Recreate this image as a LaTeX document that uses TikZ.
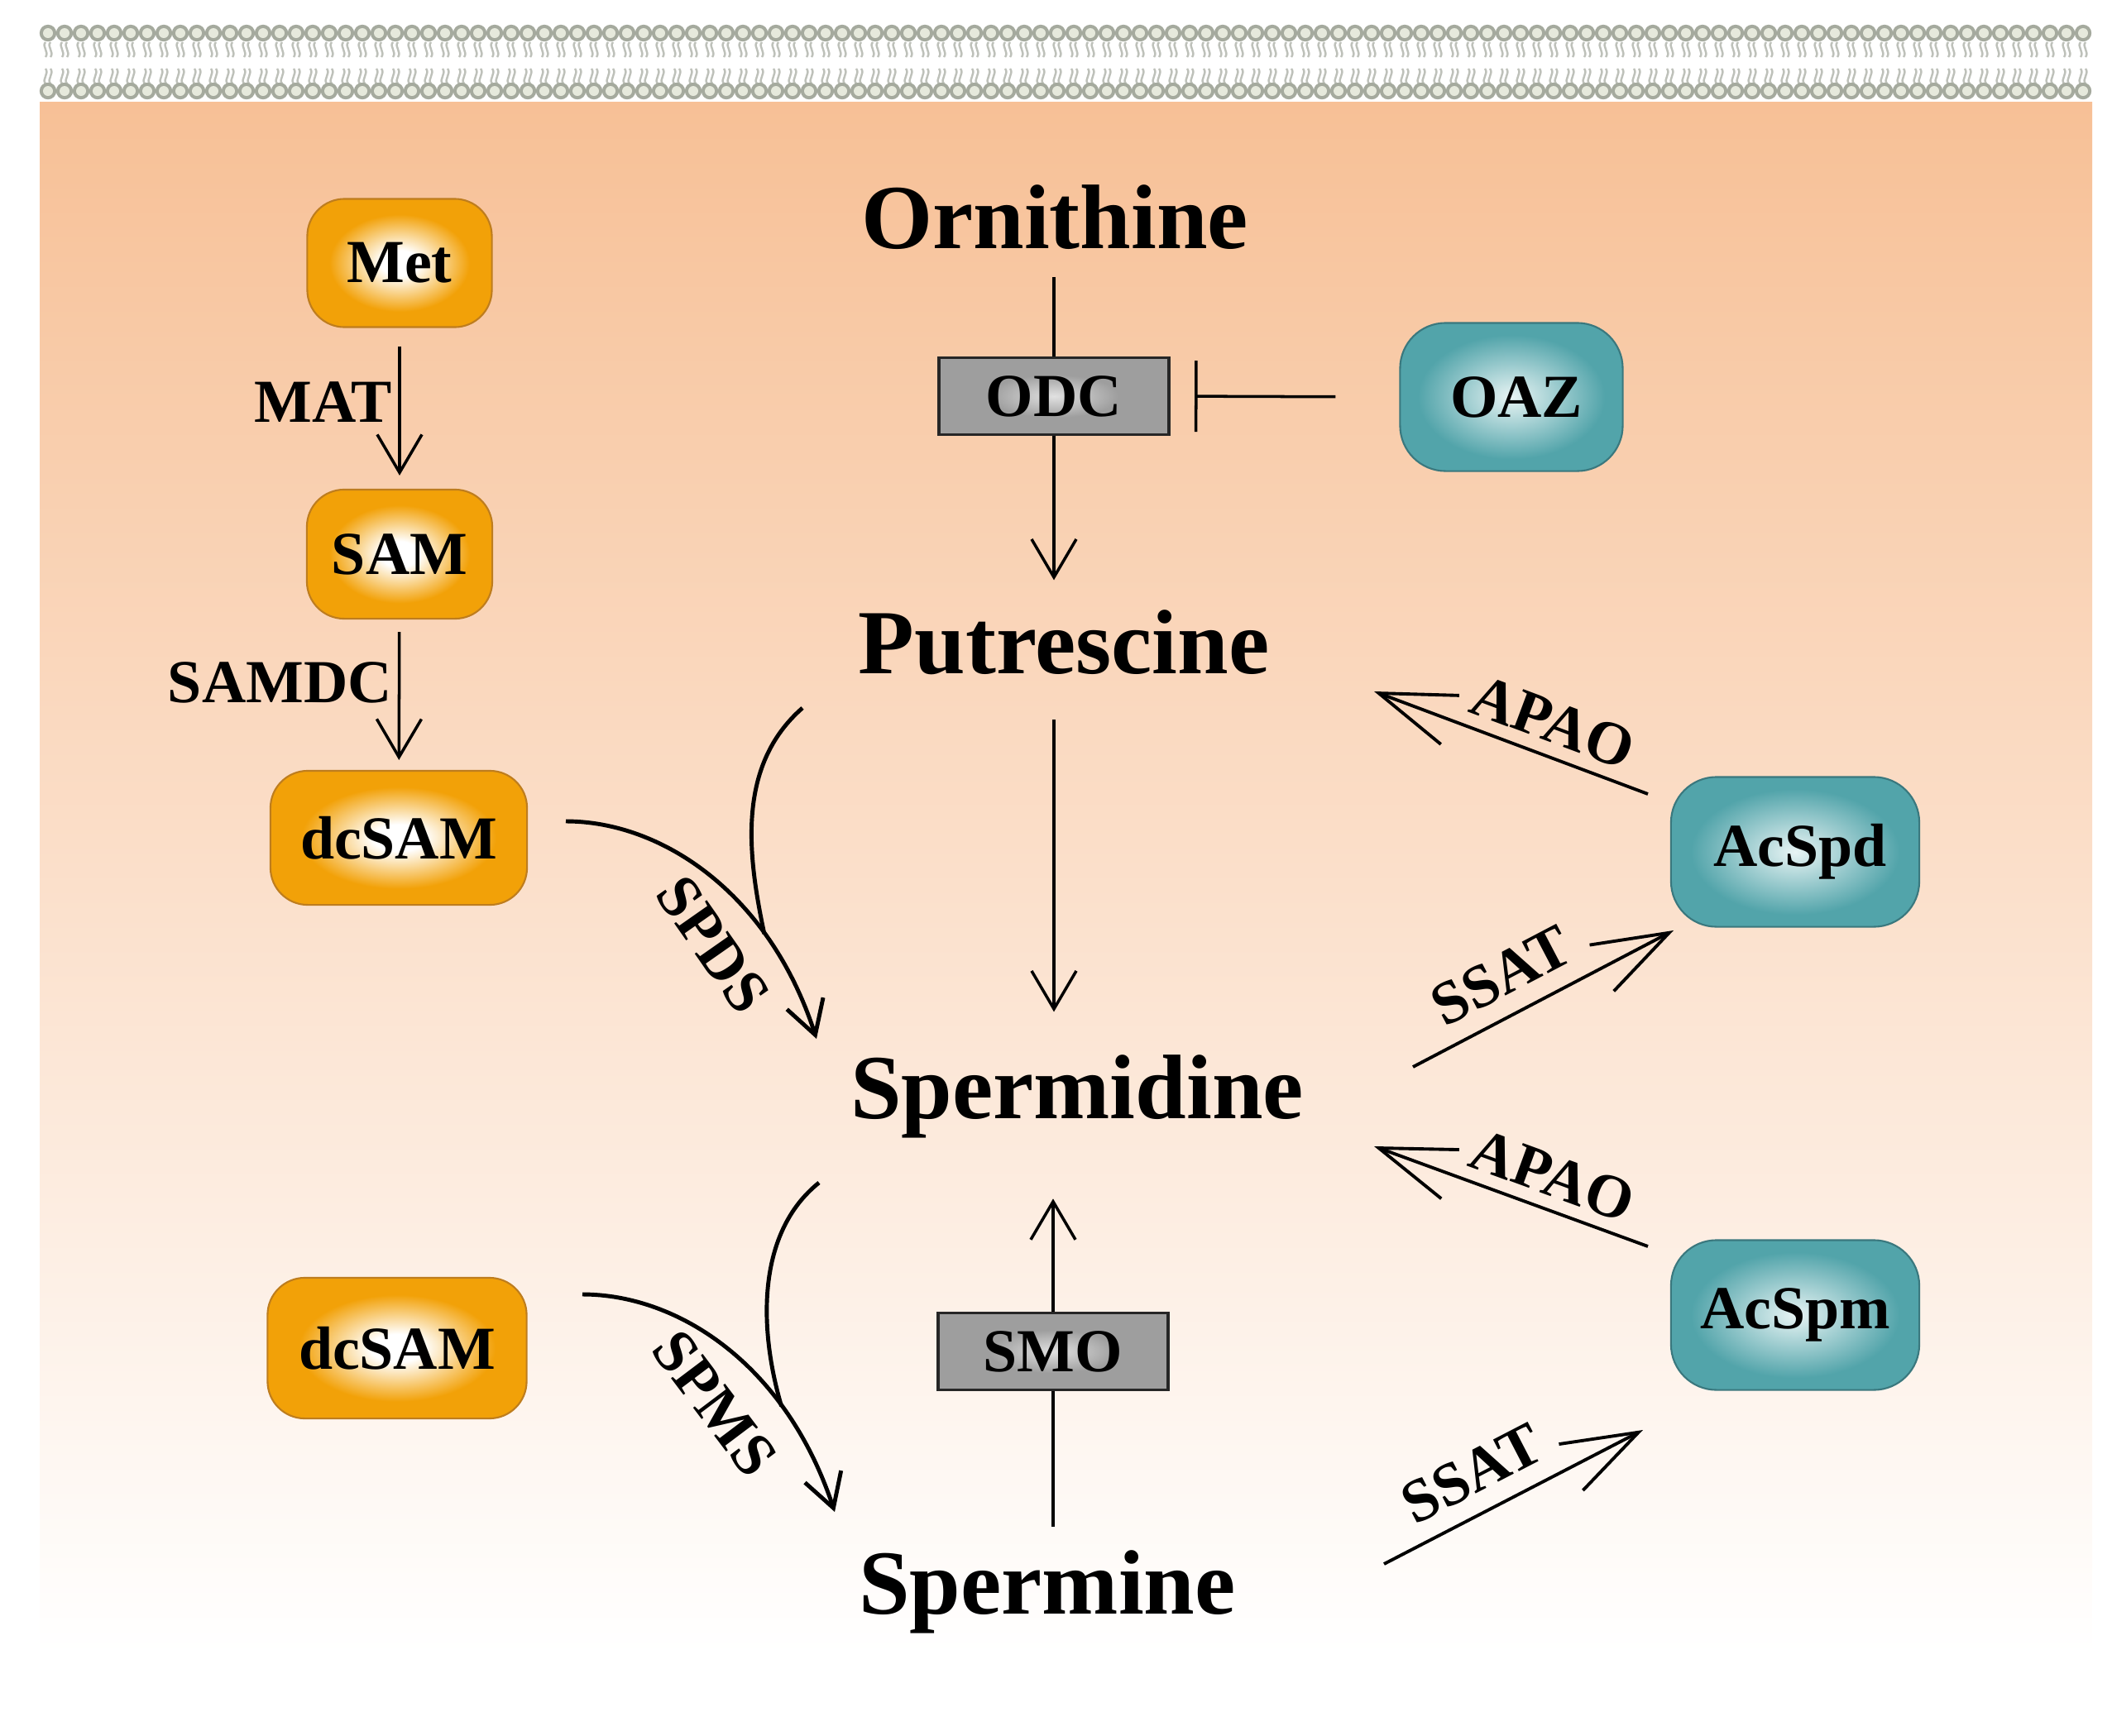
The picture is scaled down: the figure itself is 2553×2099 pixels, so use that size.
\documentclass[tikz,border=0pt]{standalone}
\usepackage{fontspec}
\setmainfont{Liberation Serif}
\usepackage{tikz}
\usetikzlibrary{arrows.meta,positioning,calc}
\definecolor{peach}{RGB}{247,192,150}
\definecolor{boxorange}{RGB}{242,161,8}
\definecolor{orangeedge}{RGB}{190,125,30}
\definecolor{boxteal}{RGB}{82,164,170}
\definecolor{tealcore}{RGB}{232,244,244}
\definecolor{tealedge}{RGB}{58,120,126}
\definecolor{boxgray}{RGB}{158,158,158}
\definecolor{graycore}{RGB}{225,225,225}
\definecolor{headgray}{RGB}{165,170,158}
\definecolor{headlight}{RGB}{230,233,220}
\definecolor{tailgray}{RGB}{190,193,186}
\pgfdeclareradialshading{orangeglow}{\pgfpoint{0bp}{0bp}}{color(0bp)=(white); color(5bp)=(white); color(19bp)=(boxorange); color(50bp)=(boxorange)}
\pgfdeclareradialshading{tealglow}{\pgfpoint{0bp}{0bp}}{color(0bp)=(tealcore); color(21bp)=(boxteal); color(50bp)=(boxteal)}
\pgfdeclareradialshading{grayglow}{\pgfpoint{0bp}{0bp}}{color(0bp)=(graycore); color(14bp)=(boxgray); color(50bp)=(boxgray)}
\newcommand{\bigfont}{\fontsize{31.5}{36}\selectfont\bfseries}
\newcommand{\lblfont}{\fontsize{21}{25}\selectfont\bfseries}
\tikzstyle{orangebox}=[rectangle,rounded corners=4.5mm,draw=orangeedge,line width=0.6pt,shade,shading=orangeglow,font=\lblfont,inner sep=0pt]
\tikzstyle{tealbox}=[rectangle,rounded corners=5.5mm,draw=tealedge,line width=0.6pt,shade,shading=tealglow,font=\lblfont,inner sep=0pt,minimum width=3cm,minimum height=1.81cm]
\tikzstyle{enzbox}=[rectangle,draw=black!85,line width=1.1pt,shade,shading=grayglow,font=\lblfont,inner sep=0pt,minimum width=2.78cm,minimum height=0.93cm]
\tikzstyle{metab}=[font=\bigfont,inner sep=0pt,anchor=base]
\tikzstyle{lbl}=[font=\lblfont,inner sep=2pt]
\tikzstyle{arr}=[draw,line width=1pt,-{Straight Barb[length=4.6mm,width=5.4mm]}]
\tikzstyle{curv}=[draw,line width=1.4pt,-{Straight Barb[length=4mm,width=4.6mm]}]
\tikzstyle{feeder}=[draw,line width=1.4pt]
\tikzstyle{acet}=[draw,line width=1.1pt]

\begin{document}
\begin{tikzpicture}[x=0.01cm,y=-0.01cm]
    \useasboundingbox (0,0) rectangle (2553,2099);
    % cytoplasm
    \shade[top color=peach,bottom color=white] (48,123) rectangle (2529,2000);
    % membrane bilayer
    \foreach \i in {0,...,123} {
        \pgfmathsetmacro\hx{58+20*\i}
        \draw[tailgray,line width=0.7pt] (\hx-3,51) .. controls (\hx-8,56) and (\hx+2,63) .. (\hx-3,69);
        \draw[tailgray,line width=0.7pt] (\hx+3,51) .. controls (\hx-2,56) and (\hx+8,63) .. (\hx+3,69);
        \draw[tailgray,line width=0.7pt] (\hx-3,83) .. controls (\hx+2,89) and (\hx-8,96) .. (\hx-3,101);
        \draw[tailgray,line width=0.7pt] (\hx+3,83) .. controls (\hx+8,89) and (\hx-2,96) .. (\hx+3,101);
        \fill[headgray] (\hx,40) circle (1.02mm);
        \fill[headlight] (\hx,40) circle (0.6mm);
        \fill[headgray] (\hx,110) circle (1.02mm);
        \fill[headlight] (\hx,110) circle (0.6mm);
    }
    % metabolites and enzymes
    \node[orangebox,minimum width=2.23cm,minimum height=1.55cm] (Met) at (483,318) {Met};
    \node[orangebox,minimum width=2.24cm,minimum height=1.56cm] (SAM) at (483,670) {SAM};
    \node[orangebox,minimum width=3.1cm,minimum height=1.62cm] (dcSAMa) at (482,1013) {dcSAM};
    \node[orangebox,minimum width=3.13cm,minimum height=1.7cm] (dcSAMb) at (480,1630) {dcSAM};
    \node[metab] (Orn) at (1275,300) {Ornithine};
    \node[enzbox] (ODC) at (1274,479) {ODC};
    \node[tealbox,minimum width=2.69cm,minimum height=1.79cm] (OAZ) at (1827,480) {\hspace*{1.2mm}OAZ};
    \node[metab] (Put) at (1286,814) {Putrescine};
    \node[metab] (Spd) at (1302,1352) {Spermidine};
    \node[enzbox] (SMO) at (1273,1634) {SMO};
    \node[metab] (Spm) at (1266,1951) {Spermine};
    \node[tealbox] (AcSpd) at (2170,1030) {\hspace*{1.2mm}AcSpd};
    \node[tealbox] (AcSpm) at (2170,1590) {AcSpm};
    % SAM branch
    \draw[arr,shorten <=2.2mm,shorten >=1.6mm] (Met) -- (SAM) node[lbl,left,pos=.46] {MAT};
    \draw[arr,shorten <=1.5mm,shorten >=1.2mm] (SAM) -- (dcSAMa) node[lbl,left,pos=.42] {SAMDC};
    % ornithine -> putrescine -> spermidine
    \draw[line width=1pt,shorten <=3.3mm] (Orn.south -| ODC.north) -- (ODC.north);
    \draw[arr,shorten >=3.5mm] (ODC.south) -- (ODC.south |- Put.north);
    \draw[line width=1pt,-{Bar[width=8.6mm]},shorten <=7.7mm,shorten >=2.9mm] (OAZ.west) -- (ODC.east);
    \draw[arr,shorten <=5.4mm,shorten >=5.1mm] (Put.south -| ODC.south) -- (Spd.north -| ODC.south);
    % spermine -> spermidine
    \draw[line width=1pt,shorten <=2.7mm] (Spm.north -| SMO.south) -- (SMO.south);
    \draw[arr,shorten >=7.3mm] (SMO.north) -- (SMO.north |- Spd.south);
    % SPDS and SPMS
    \coordinate (spdsA) at (684,993);
    \coordinate (spdsTip) at (987,1256);
    \coordinate (putA) at (970,856);
    \draw[curv] (spdsA) .. controls (800,993) and (930,1080) .. (spdsTip) coordinate[pos=.72] (spdsJoin);
    \draw[feeder] (putA) .. controls +(-80,70) and +(-20,-95) .. (spdsJoin);
    \node[lbl,rotate=-55] (spdsL) at (862,1142) {SPDS};
    \coordinate (spmsA) at (704,1565);
    \coordinate (spmsTip) at (1009,1828);
    \coordinate (spdB) at (990,1430);
    \draw[curv] (spmsA) .. controls (820,1565) and (950,1650) .. (spmsTip) coordinate[pos=.72] (spmsJoin);
    \draw[feeder] (spdB) .. controls +(-75,60) and +(-28,-95) .. (spmsJoin);
    \node[lbl,rotate=-53] (spmsL) at (864,1697) {SPMS};
    % acetylation and oxidation
    \coordinate (apaoTipA) at (1661,836);
    \coordinate (apaoA) at (1992,960);
    \coordinate (ssatA) at (1708,1290);
    \coordinate (ssatTipA) at (2023,1125);
    \coordinate (apaoTipB) at (1661,1386);
    \coordinate (apaoB) at (1992,1507);
    \coordinate (ssatB) at (1673,1891);
    \coordinate (ssatTipB) at (1986,1729);
    \foreach \tip/\from in {apaoTipA/apaoA, apaoTipB/apaoB}
        \draw[acet,{Straight Barb[length=9.2mm,width=6.3mm]}-] (\tip) -- (\from) node[lbl,pos=.61,sloped,above,inner sep=4pt] {APAO};
    \foreach \from/\tip in {ssatA/ssatTipA, ssatB/ssatTipB}
        \draw[acet,-{Straight Barb[length=9.2mm,width=6.3mm]}] (\from) -- (\tip) node[lbl,pos=.41,sloped,above,inner sep=6pt] {SSAT};
\end{tikzpicture}
\end{document}
